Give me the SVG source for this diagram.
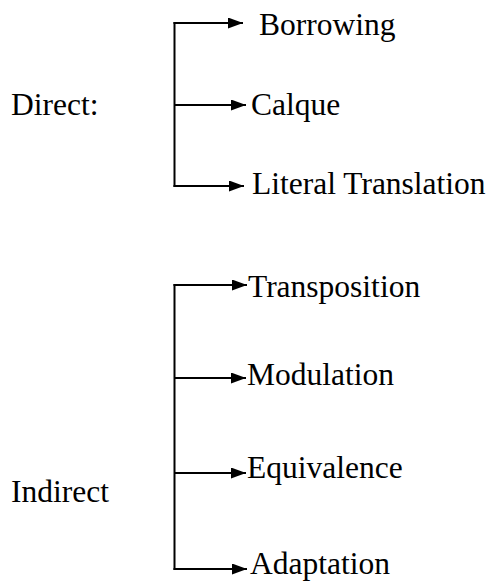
<svg xmlns="http://www.w3.org/2000/svg" width="490" height="581" viewBox="0 0 490 581">
<defs>
<marker id="arr" markerUnits="userSpaceOnUse" markerWidth="16" markerHeight="12" refX="15" refY="5.5" orient="auto">
<path d="M0,0 L15,5.5 L0,11 z" fill="#000"/>
</marker>
<style>
text{font-family:"Liberation Serif","Times New Roman",serif;font-size:31.5px;fill:#000}
.c{fill:none;stroke:#000;stroke-width:2}
.a{marker-end:url(#arr)}
</style>
</defs>
<rect width="490" height="581" fill="#fff"/>
<g id="connectors">
<line class="c" x1="174.5" y1="22" x2="174.5" y2="187"/>
<line class="c a" x1="173.5" y1="23" x2="243" y2="23"/>
<line class="c a" x1="174.5" y1="105" x2="246" y2="105"/>
<line class="c a" x1="173.5" y1="186" x2="244" y2="186"/>
<line class="c" x1="174.5" y1="284" x2="174.5" y2="570"/>
<line class="c a" x1="173.5" y1="285" x2="247" y2="285"/>
<line class="c a" x1="174.5" y1="378" x2="246" y2="378"/>
<line class="c a" x1="174.5" y1="473" x2="246" y2="473"/>
<line class="c a" x1="173.5" y1="569" x2="247" y2="569"/>
</g>
<g id="direct"><text x="11" y="115">Direct:</text></g>
<g id="borrowing"><text x="259" y="35">Borrowing</text></g>
<g id="calque"><text x="251" y="115">Calque</text></g>
<g id="literal"><text x="252" y="194">Literal Translation</text></g>
<g id="indirect"><text x="11" y="502">Indirect</text></g>
<g id="transposition"><text x="248" y="297">Transposition</text></g>
<g id="modulation"><text x="247" y="385">Modulation</text></g>
<g id="equivalence"><text x="247" y="478">Equivalence</text></g>
<g id="adaptation"><text x="250" y="574">Adaptation</text></g>
</svg>
